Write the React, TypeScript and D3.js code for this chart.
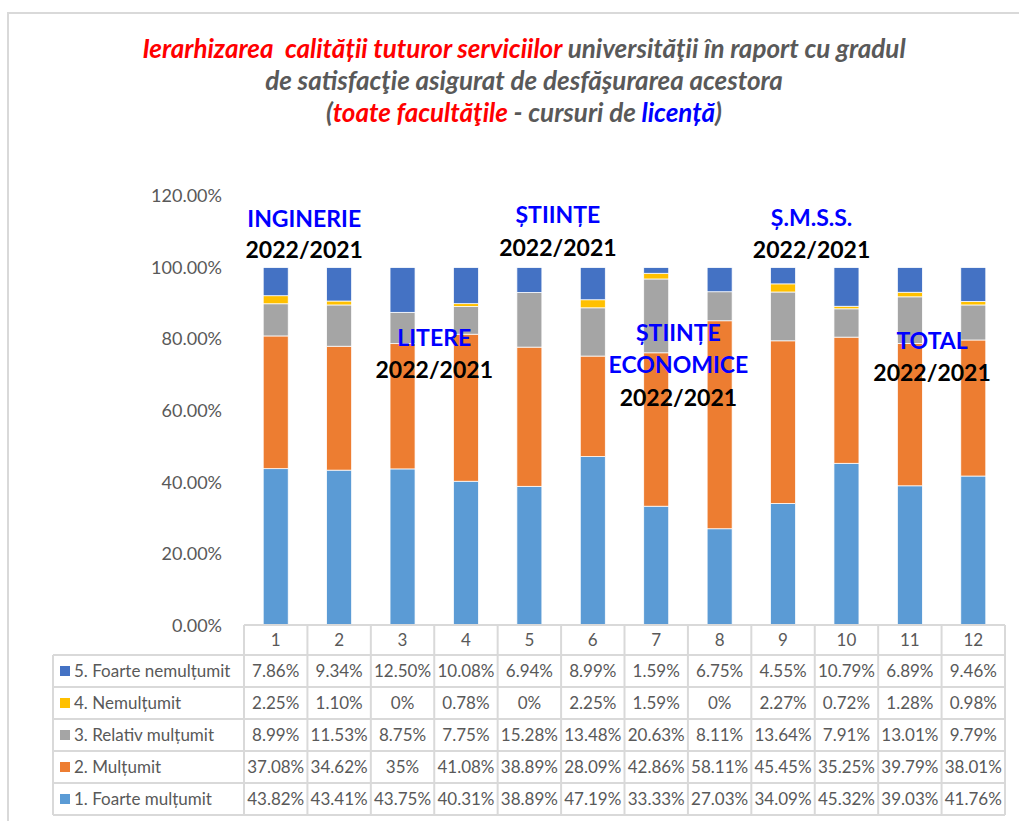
import React from "react";
import * as d3 from "d3";

const categories = ["1", "2", "3", "4", "5", "6", "7", "8", "9", "10", "11", "12"];
const seriesNames = [
  "1. Foarte mulțumit",
  "2. Mulțumit",
  "3. Relativ mulțumit",
  "4. Nemulțumit",
  "5. Foarte nemulțumit",
];
const foarteMultumit = [43.82, 43.41, 43.75, 40.31, 38.89, 47.19, 33.33, 27.03, 34.09, 45.32, 39.03, 41.76];
const multumit = [37.08, 34.62, 35, 41.08, 38.89, 28.09, 42.86, 58.11, 45.45, 35.25, 39.79, 38.01];
const relativMultumit = [8.99, 11.53, 8.75, 7.75, 15.28, 13.48, 20.63, 8.11, 13.64, 7.91, 13.01, 9.79];
const nemultumit = [2.25, 1.1, 0, 0.78, 0, 2.25, 1.59, 0, 2.27, 0.72, 1.28, 0.98];
const foarteNemultumit = [7.86, 9.34, 12.5, 10.08, 6.94, 8.99, 1.59, 6.75, 4.55, 10.79, 6.89, 9.46];
const yTicks = [0, 20, 40, 60, 80, 100, 120];
const faculties = ["INGINERIE", "LITERE", "ȘTIINȚE", "ȘTIINȚE ECONOMICE", "Ș.M.S.S.", "TOTAL"];
const yearLabel = "2022/2021";

const colors = ["#5B9BD5", "#ED7D31", "#A5A5A5", "#FFC000", "#4472C4"];
const FONT = "Lato, 'Open Sans', sans-serif";

export default function App() {
  const width = 1019;
  const height = 821;
  const values = [foarteMultumit, multumit, relativMultumit, nemultumit, foarteNemultumit];
  const rows = categories.map((c, i) => {
    const r: any = { cat: c };
    seriesNames.forEach((s, k) => (r[s] = values[k][i]));
    return r;
  });
  const stacked = d3.stack().keys(seriesNames)(rows);

  const x = d3.scaleBand().domain(categories).range([244, 1005]).padding(0);
  const y = d3.scaleLinear().domain([0, 120]).range([625.5, 196]);
  const barW = 25;
  const cw = x.bandwidth();

  const fmt = (v: number) => (Number.isInteger(v) ? `${v}%` : `${v.toFixed(2)}%`);

  const tableTop = 625;
  const headerH = 30;
  const rowH = 32;
  const labelLeft = 53;
  const gridColor = "#D9D9D9";
  const textColor = "#595959";
  const tableOrder = [4, 3, 2, 1, 0];

  // position between categories, e.g. 1.5 = halfway from column 1 to column 2
  const midX = (a: number) => {
    const i = Math.floor(a) - 1;
    return (x(categories[i]) as number) + cw / 2 + (a - Math.floor(a)) * cw;
  };

  const blue = "#0000FF";
  const red = "#FF0000";

  return (
    <svg width={width} height={height} style={{ position: "absolute", left: 0, top: 0, fontFamily: FONT }}>
      <rect x={0} y={0} width={width} height={height} fill="#fff" />
      <rect x={8} y={13} width={width + 20} height={height + 20} fill="none" stroke={gridColor} strokeWidth={2} />

      {/* title */}
      <g fontWeight="bold" fontStyle="italic" fontSize={26} textAnchor="middle" fill={textColor}>
        <text x={524} y={58} xmlSpace="preserve">
          <tspan fill={red}>{"Ierarhizarea  calității tuturor serviciilor"}</tspan>
          <tspan>{" universităţii în raport cu gradul"}</tspan>
        </text>
        <text x={524} y={90}>de satisfacţie asigurat de desfăşurarea acestora</text>
        <text x={524} y={122} xmlSpace="preserve">
          <tspan>(</tspan>
          <tspan fill={red}>toate facultăţile</tspan>
          <tspan>{" - cursuri de "}</tspan>
          <tspan fill={blue}>licență</tspan>
          <tspan>)</tspan>
        </text>
      </g>

      {/* y axis labels */}
      <g fontSize={18} fill={textColor} textAnchor="end">
        {yTicks.map((t) => (
          <text key={t} x={222} y={y(t)} dy="0.35em">
            {`${t.toFixed(2)}%`}
          </text>
        ))}
      </g>

      {/* bars */}
      {stacked.map((layer, k) => (
        <g key={layer.key} fill={colors[k]}>
          {layer.map((d, i) => (
            <rect
              key={i}
              x={(x(categories[i]) as number) + (cw - barW) / 2}
              y={y(d[1])}
              width={barW}
              height={Math.max(0, y(d[0]) - y(d[1]))}
              stroke="#fff"
              strokeWidth={0.75}
            />
          ))}
        </g>
      ))}

      {/* faculty annotations */}
      <g fontWeight="bold" fontSize={23} textAnchor="middle">
        <text x={midX(1.45)} y={227} fill={blue}>{faculties[0]}</text>
        <text x={midX(1.45)} y={258} fill="#000">{yearLabel}</text>
        <text x={midX(3.5)} y={346} fill={blue}>{faculties[1]}</text>
        <text x={midX(3.5)} y={378} fill="#000">{yearLabel}</text>
        <text x={midX(5.45)} y={223} fill={blue}>{faculties[2]}</text>
        <text x={midX(5.45)} y={256} fill="#000">{yearLabel}</text>
        <text x={midX(7.35)} y={341} fill={blue}>{faculties[3].split(" ")[0]}</text>
        <text x={midX(7.35)} y={373} fill={blue}>{faculties[3].split(" ")[1]}</text>
        <text x={midX(7.35)} y={406} fill="#000">{yearLabel}</text>
        <text x={midX(9.45)} y={226} fill={blue}>{faculties[4]}</text>
        <text x={midX(9.45)} y={258} fill="#000">{yearLabel}</text>
        <text x={midX(11.35)} y={349} fill={blue}>{faculties[5]}</text>
        <text x={midX(11.35)} y={381} fill="#000">{yearLabel}</text>
      </g>

      {/* data table */}
      <g fontSize={17} fill={textColor}>
        <line x1={244} x2={1005} y1={tableTop} y2={tableTop} stroke={gridColor} strokeWidth={2} />
        {categories.map((c) => (
          <text key={c} x={(x(c) as number) + cw / 2} y={tableTop + headerH / 2} dy="0.35em" textAnchor="middle">
            {c}
          </text>
        ))}
        {d3.range(tableOrder.length + 1).map((r) => (
          <line
            key={r}
            x1={labelLeft}
            x2={1005}
            y1={tableTop + headerH + r * rowH}
            y2={tableTop + headerH + r * rowH}
            stroke={gridColor}
            strokeWidth={2}
          />
        ))}
        <line x1={labelLeft} x2={labelLeft} y1={tableTop + headerH} y2={tableTop + headerH + 5 * rowH} stroke={gridColor} strokeWidth={2} />
        {categories.map((c) => (
          <line
            key={c}
            x1={x(c) as number}
            x2={x(c) as number}
            y1={tableTop}
            y2={tableTop + headerH + 5 * rowH}
            stroke={gridColor}
            strokeWidth={2}
          />
        ))}
        <line x1={1005} x2={1005} y1={tableTop} y2={tableTop + headerH + 5 * rowH} stroke={gridColor} strokeWidth={2} />
        {tableOrder.map((k, r) => {
          const cy = tableTop + headerH + r * rowH + rowH / 2;
          return (
            <g key={k}>
              <rect x={60} y={cy - 5} width={10} height={10} fill={colors[k]} />
              <text x={74} y={cy} dy="0.35em">{seriesNames[k]}</text>
              {values[k].map((v, i) => (
                <text key={i} x={(x(categories[i]) as number) + cw / 2} y={cy} dy="0.35em" textAnchor="middle">
                  {fmt(v)}
                </text>
              ))}
            </g>
          );
        })}
      </g>
    </svg>
  );
}
